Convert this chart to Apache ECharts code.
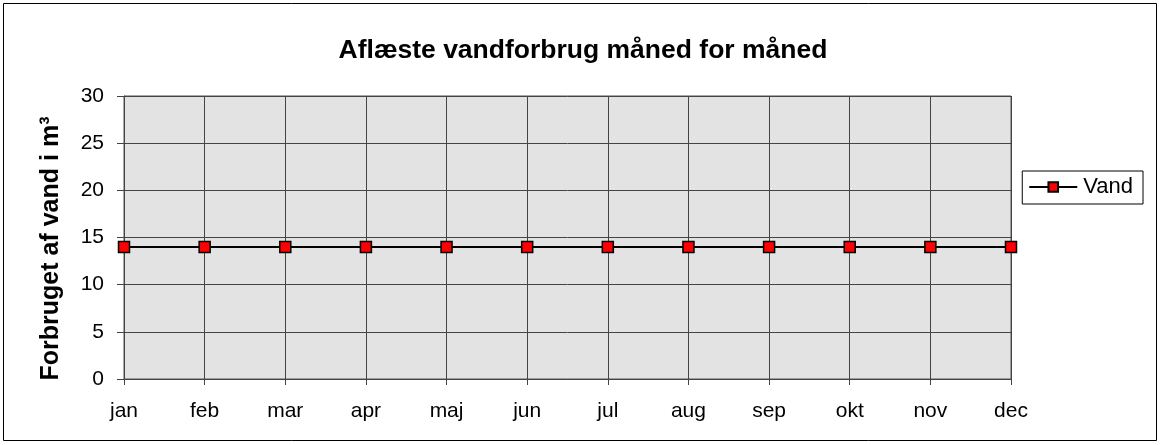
<!DOCTYPE html>
<html><head><meta charset="utf-8">
<script src="https://cdn.jsdelivr.net/npm/echarts@6/dist/echarts.min.js"></script>
<style>html,body{margin:0;padding:0;background:#fff}#c{width:1160px;height:445px}</style>
</head><body><div id="c"></div>
<script>
const categories = ['jan','feb','mar','apr','maj','jun','jul','aug','sep','okt','nov','dec'];
const vand = [14,14,14,14,14,14,14,14,14,14,14,14];
const yTicks = [0,5,10,15,20,25,30];
const chart = echarts.init(document.getElementById('c'));
const font = 'Liberation Sans, Arial, sans-serif';
chart.setOption({
  animation: false,
  title: { text: 'Aflæste vandforbrug måned for måned', left: 578, top: 32, textAlign: 'center',
    textStyle: { fontFamily: font, fontWeight: 'bold', fontSize: 26.5, color: '#000' } },
  graphic: [{ type: 'rect', shape: { x: 3.5, y: 3.5, width: 1153, height: 437 },
    style: { fill: 'none', stroke: '#000', lineWidth: 1 } }],
  legend: { right: 17, top: 171, orient: 'vertical', borderColor: '#000', borderWidth: 1, padding: [5, 10, 6, 6],
    itemWidth: 48, itemHeight: 12, itemGap: 0,
    textStyle: { fontFamily: font, fontSize: 22, color: '#000', padding: [0, 0, 0, 1] }, data: ['Vand'] },
  grid: { left: 124, right: 149, top: 96, bottom: 66, show: true, backgroundColor: '#e3e3e3', borderColor: '#555', borderWidth: 1 },
  xAxis: { type: 'category', data: categories, boundaryGap: false,
    axisLine: { lineStyle: { color: '#444' } },
    axisTick: { show: true, length: 6, lineStyle: { color: '#444' } },
    splitLine: { show: true, lineStyle: { color: '#444', width: 1 } },
    axisLabel: { fontFamily: font, fontSize: 21, color: '#000', margin: 22 } },
  yAxis: { type: 'value', min: 0, max: 30, interval: 5,
    name: 'Forbruget af vand i m³', nameLocation: 'middle', nameGap: 60, nameRotate: 90,
    nameTextStyle: { fontFamily: font, fontWeight: 'bold', fontSize: 25, color: '#000', padding: [0, 22, 0, 0] },
    axisLine: { show: true, lineStyle: { color: '#444' } },
    axisTick: { show: true, length: 7, lineStyle: { color: '#444' } },
    splitLine: { show: true, lineStyle: { color: '#444', width: 1 } },
    axisLabel: { fontFamily: font, fontSize: 21, color: '#000', margin: 20,
      formatter: v => yTicks.includes(v) ? String(v) : '' } },
  series: [{ name: 'Vand', type: 'line', data: vand, symbol: 'rect', symbolSize: 11,
    lineStyle: { color: '#000', width: 2 },
    itemStyle: { color: '#ff0000', borderColor: '#000', borderWidth: 1.5 } }]
});
</script></body></html>
